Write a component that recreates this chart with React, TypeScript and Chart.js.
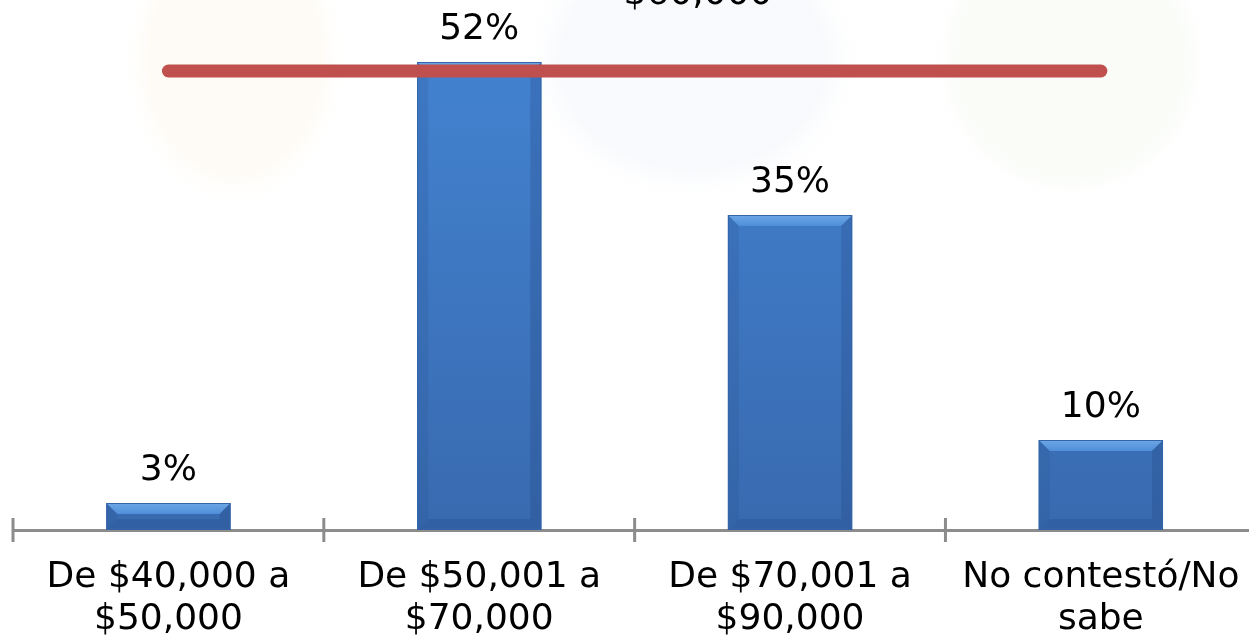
import { useEffect, useRef } from 'react';
import { Chart, registerables } from 'chart.js';

Chart.register(...registerables);

const categories: string[][] = [
  ['De $40,000 a', '$50,000'],
  ['De $50,001 a', '$70,000'],
  ['De $70,001 a', '$90,000'],
  ['No contestó/No', 'sabe'],
];
const shares: number[] = [3, 52, 35, 10];
const valueLabels: string[] = ['3%', '52%', '35%', '10%'];
const referenceLine: number[] = [51, 51, 51, 51];
const referenceLabel = '$60,000';

const FONT = '"DejaVu Sans", Verdana, sans-serif';
const FONT_SIZE = 36;

const watermarkPlugin = {
  id: 'watermark',
  beforeDraw(chart: any) {
    const ctx = chart.ctx;
    const blobs = [
      { cx: 235, cy: 60, rx: 115, ry: 150, c: 'rgba(250,225,180,0.12)' },
      { cx: 693, cy: 60, rx: 175, ry: 145, c: 'rgba(215,225,240,0.18)' },
      { cx: 1071, cy: 60, rx: 148, ry: 150, c: 'rgba(220,238,210,0.16)' },
    ];
    ctx.save();
    ctx.fillStyle = '#fff';
    ctx.fillRect(0, 0, chart.width, chart.height);
    blobs.forEach((b) => {
      ctx.save();
      ctx.translate(b.cx, b.cy);
      ctx.scale(b.rx / b.ry, 1);
      const g = ctx.createRadialGradient(0, 0, 0, 0, 0, b.ry);
      g.addColorStop(0, b.c);
      g.addColorStop(0.75, b.c);
      g.addColorStop(1, 'rgba(255,255,255,0)');
      ctx.fillStyle = g;
      ctx.beginPath();
      ctx.arc(0, 0, b.ry, 0, Math.PI * 2);
      ctx.fill();
      ctx.restore();
    });
    ctx.restore();
  },
};

const bevelPlugin = {
  id: 'bevel',
  afterDatasetDraw(chart: any, args: any) {
    if (args.meta.type !== 'bar') return;
    const ctx = chart.ctx;
    ctx.save();
    args.meta.data.forEach((el: any) => {
      const { x, y, base, width } = el.getProps(['x', 'y', 'base', 'width'], true);
      const l = x - width / 2;
      const r = x + width / 2;
      const t = Math.min(y, base);
      const b = Math.max(y, base);
      const bv = Math.min(11, (b - t) / 2);
      const gTop = ctx.createLinearGradient(0, t, 0, t + bv);
      gTop.addColorStop(0, '#6ea7e6');
      gTop.addColorStop(1, '#4f8ed9');
      ctx.fillStyle = gTop;
      ctx.beginPath();
      ctx.moveTo(l, t); ctx.lineTo(r, t); ctx.lineTo(r - bv, t + bv); ctx.lineTo(l + bv, t + bv); ctx.closePath();
      ctx.fill();
      ctx.fillStyle = 'rgba(40,80,140,0.18)';
      ctx.beginPath();
      ctx.moveTo(l, t); ctx.lineTo(l + bv, t + bv); ctx.lineTo(l + bv, b - bv); ctx.lineTo(l, b); ctx.closePath();
      ctx.fill();
      ctx.fillStyle = 'rgba(30,60,120,0.22)';
      ctx.beginPath();
      ctx.moveTo(r, t); ctx.lineTo(r - bv, t + bv); ctx.lineTo(r - bv, b - bv); ctx.lineTo(r, b); ctx.closePath();
      ctx.fill();
      ctx.fillStyle = 'rgba(30,60,120,0.2)';
      ctx.beginPath();
      ctx.moveTo(l, b); ctx.lineTo(l + bv, b - bv); ctx.lineTo(r - bv, b - bv); ctx.lineTo(r, b); ctx.closePath();
      ctx.fill();
      ctx.strokeStyle = '#3465a8';
      ctx.lineWidth = 1;
      ctx.strokeRect(l + 0.5, t + 0.5, width - 1, b - t - 1);
    });
    ctx.restore();
  },
};

const annotatePlugin = {
  id: 'annotate',
  afterDatasetsDraw(chart: any) {
    const ctx = chart.ctx;
    const xs = chart.scales.x;
    const ys = chart.scales.y;
    ctx.save();
    const n = categories.length;
    const w = (xs.right - xs.left) / n;
    const axisY = ys.getPixelForValue(0);
    ctx.strokeStyle = '#8c8c8c';
    ctx.lineWidth = 3;
    for (let k = 0; k <= n; k++) {
      const px = xs.left + k * w;
      ctx.beginPath();
      ctx.moveTo(px, axisY - 12);
      ctx.lineTo(px, axisY + 12);
      ctx.stroke();
    }
    ctx.fillStyle = '#000';
    ctx.font = `${FONT_SIZE}px ${FONT}`;
    ctx.textAlign = 'center';
    ctx.textBaseline = 'alphabetic';
    const barMeta = chart.getDatasetMeta(1);
    barMeta.data.forEach((el: any, i: number) => {
      ctx.fillText(valueLabels[i], el.x, el.y - 23);
    });
    const ly = ys.getPixelForValue(referenceLine[0]);
    ctx.fillText(referenceLabel, xs.getPixelForValue(1.704), ly - 67);
    ctx.restore();
  },
};

export default function App() {
  const ref = useRef<HTMLCanvasElement>(null);
  useEffect(() => {
    if (!ref.current) return;
    const ctx = ref.current.getContext('2d')!;
    const barGrad = ctx.createLinearGradient(0, 0, 0, 530);
    barGrad.addColorStop(0, '#4485d4');
    barGrad.addColorStop(1, '#386aaf');
    const chart = new Chart(ctx, {
      type: 'bar',
      data: {
        labels: categories as any,
        datasets: [
          {
            type: 'line',
            data: referenceLine,
            borderColor: '#C0504D',
            borderWidth: 13,
            borderCapStyle: 'round',
            pointRadius: 0,
            fill: false,
            order: 0,
          } as any,
          {
            type: 'bar',
            data: shares,
            backgroundColor: barGrad,
            borderWidth: 0,
            categoryPercentage: 1,
            barPercentage: 0.4,
            order: 1,
          },
        ],
      },
      plugins: [watermarkPlugin, bevelPlugin, annotatePlugin],
      options: {
        responsive: false,
        animation: false,
        layout: { padding: { left: 13, right: 4, top: 8, bottom: 0 } },
        plugins: { legend: { display: false }, tooltip: { enabled: false } },
        scales: {
          x: {
            grid: { display: false, drawTicks: false },
            border: { display: true, color: '#8c8c8c', width: 3 },
            ticks: {
              color: '#000',
              font: { family: FONT, size: FONT_SIZE, lineHeight: 1.167 },
              padding: 27,
              maxRotation: 0,
              autoSkip: false,
            },
            afterFit: (scale: any) => { scale.height = 112; },
          },
          y: {
            display: false,
            min: 0,
            max: 58,
          },
        },
      },
    });
    return () => chart.destroy();
  }, []);
  return (
    <div style={{ position: 'fixed', left: 0, top: 0, width: 1267, height: 642, background: '#fff' }}>
      <canvas ref={ref} width={1267} height={642} style={{ display: 'block' }} />
    </div>
  );
}
